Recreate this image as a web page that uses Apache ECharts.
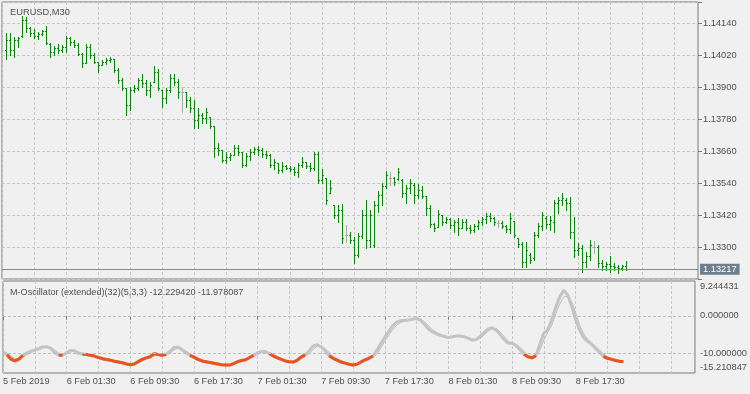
<!DOCTYPE html>
<html><head><meta charset="utf-8">
<script src="https://cdn.jsdelivr.net/npm/echarts@6/dist/echarts.min.js"></script>
<style>html,body{margin:0;padding:0;background:#f0f0f0;}#c{width:750px;height:394px;}</style>
</head><body><div id="c"></div>
<script>
const symbolName = 'EURUSD,M30';
const indicatorName = 'M-Oscillator (extended)(32)(5,3,3)';
const tickLabels = ['5 Feb 2019','6 Feb 01:30','6 Feb 09:30','6 Feb 17:30','7 Feb 01:30','7 Feb 09:30','7 Feb 17:30','8 Feb 01:30','8 Feb 09:30','8 Feb 17:30'];
const oscTicks = [-15.210847, -10, 0, 9.244431];
const oscLevels = [0, -10];

// OHLC bars, first bar = 5 Feb 18:00 (category 1), 30 min each
const open = [
1.14040,1.14077,1.14040,1.14077,1.14092,1.14152,1.14122,1.14103,1.14092,1.14100,
1.14111,1.14062,1.14032,1.14047,1.14040,1.14051,1.14085,1.14070,1.14058,1.14025,
1.13991,1.14051,1.14021,1.13995,1.13983,1.13995,1.14002,1.14006,1.13965,1.13927,
1.13897,1.13833,1.13890,1.13897,1.13927,1.13916,1.13890,1.13920,1.13957,1.13890,
1.13860,1.13890,1.13935,1.13920,1.13882,1.13882,1.13852,1.13822,1.13777,1.13796,
1.13785,1.13788,1.13755,1.13672,1.13665,1.13627,1.13638,1.13646,1.13672,1.13657,
1.13608,1.13642,1.13657,1.13668,1.13665,1.13650,1.13646,1.13608,1.13616,1.13590,
1.13605,1.13597,1.13593,1.13582,1.13608,1.13620,1.13605,1.13597,1.13650,1.13552,
1.13560,1.13503,1.13458,1.13421,1.13440,1.13346,1.13346,1.13327,1.13271,1.13342,
1.13421,1.13327,1.13308,1.13458,1.13496,1.13530,1.13560,1.13560,1.13556,1.13552,
1.13503,1.13522,1.13533,1.13496,1.13515,1.13492,1.13447,1.13387,1.13376,1.13421,
1.13395,1.13406,1.13383,1.13395,1.13372,1.13395,1.13372,1.13365,1.13380,1.13395,
1.13406,1.13417,1.13410,1.13391,1.13391,1.13380,1.13368,1.13398,1.13335,1.13312,
1.13245,1.13271,1.13260,1.13346,1.13380,1.13410,1.13387,1.13395,1.13466,1.13477,
1.13477,1.13466,1.13357,1.13290,1.13297,1.13245,1.13267,1.13301,1.13301,1.13241,
1.13230,1.13237,1.13230,1.13226,1.13222,1.13230];
const high = [
1.14103,1.14103,1.14088,1.14088,1.14167,1.14163,1.14126,1.14118,1.14107,1.14115,
1.14130,1.14066,1.14055,1.14062,1.14058,1.14092,1.14088,1.14077,1.14066,1.14028,
1.14062,1.14062,1.14028,1.13995,1.14002,1.14010,1.14013,1.14006,1.13972,1.13935,
1.13897,1.13901,1.13908,1.13935,1.13950,1.13927,1.13920,1.13980,1.13968,1.13890,
1.13897,1.13950,1.13950,1.13931,1.13901,1.13882,1.13863,1.13852,1.13822,1.13803,
1.13822,1.13788,1.13755,1.13691,1.13665,1.13657,1.13653,1.13683,1.13683,1.13657,
1.13653,1.13668,1.13676,1.13680,1.13672,1.13661,1.13650,1.13631,1.13616,1.13620,
1.13608,1.13605,1.13601,1.13616,1.13638,1.13620,1.13616,1.13657,1.13657,1.13593,
1.13560,1.13552,1.13458,1.13458,1.13462,1.13383,1.13357,1.13338,1.13353,1.13440,
1.13477,1.13440,1.13473,1.13511,1.13541,1.13586,1.13582,1.13563,1.13597,1.13556,
1.13533,1.13556,1.13541,1.13537,1.13530,1.13492,1.13458,1.13391,1.13440,1.13421,
1.13413,1.13410,1.13402,1.13410,1.13406,1.13406,1.13383,1.13387,1.13402,1.13413,
1.13428,1.13428,1.13413,1.13402,1.13398,1.13383,1.13428,1.13398,1.13335,1.13320,
1.13320,1.13278,1.13357,1.13391,1.13432,1.13417,1.13417,1.13477,1.13488,1.13503,
1.13485,1.13488,1.13413,1.13316,1.13308,1.13282,1.13327,1.13323,1.13308,1.13252,
1.13245,1.13267,1.13241,1.13233,1.13233,1.13248];
const low = [
1.14006,1.14021,1.14013,1.14051,1.14088,1.14107,1.14092,1.14085,1.14081,1.14096,
1.14062,1.14013,1.14021,1.14028,1.14032,1.14032,1.14058,1.14051,1.14021,1.13976,
1.13991,1.14010,1.13991,1.13957,1.13983,1.13987,1.13995,1.13957,1.13916,1.13890,
1.13796,1.13815,1.13882,1.13890,1.13901,1.13871,1.13863,1.13920,1.13890,1.13826,
1.13841,1.13882,1.13908,1.13860,1.13807,1.13826,1.13807,1.13747,1.13747,1.13766,
1.13766,1.13747,1.13638,1.13646,1.13620,1.13616,1.13627,1.13646,1.13646,1.13601,
1.13605,1.13627,1.13650,1.13646,1.13638,1.13635,1.13601,1.13593,1.13578,1.13582,
1.13593,1.13586,1.13571,1.13563,1.13601,1.13597,1.13586,1.13590,1.13541,1.13541,
1.13462,1.13503,1.13410,1.13395,1.13316,1.13320,1.13316,1.13241,1.13263,1.13335,
1.13297,1.13301,1.13301,1.13432,1.13458,1.13522,1.13533,1.13533,1.13552,1.13488,
1.13466,1.13503,1.13466,1.13485,1.13485,1.13421,1.13376,1.13361,1.13376,1.13383,
1.13391,1.13372,1.13357,1.13346,1.13372,1.13365,1.13353,1.13357,1.13368,1.13383,
1.13391,1.13398,1.13383,1.13376,1.13372,1.13357,1.13353,1.13338,1.13301,1.13226,
1.13226,1.13241,1.13252,1.13338,1.13365,1.13372,1.13365,1.13357,1.13428,1.13458,
1.13440,1.13335,1.13263,1.13271,1.13207,1.13226,1.13252,1.13278,1.13226,1.13215,
1.13215,1.13207,1.13215,1.13203,1.13215,1.13215];
const close = [
1.14077,1.14040,1.14077,1.14085,1.14152,1.14122,1.14103,1.14092,1.14100,1.14111,
1.14066,1.14032,1.14047,1.14040,1.14051,1.14085,1.14070,1.14058,1.14025,1.13991,
1.14051,1.14021,1.13995,1.13983,1.13995,1.14002,1.14006,1.13965,1.13927,1.13897,
1.13833,1.13890,1.13897,1.13927,1.13916,1.13890,1.13908,1.13957,1.13897,1.13860,
1.13890,1.13935,1.13920,1.13882,1.13882,1.13852,1.13822,1.13777,1.13796,1.13785,
1.13807,1.13755,1.13672,1.13665,1.13627,1.13638,1.13646,1.13672,1.13657,1.13608,
1.13642,1.13657,1.13668,1.13665,1.13650,1.13646,1.13608,1.13620,1.13590,1.13605,
1.13597,1.13593,1.13582,1.13608,1.13620,1.13605,1.13597,1.13650,1.13552,1.13571,
1.13477,1.13522,1.13421,1.13440,1.13335,1.13346,1.13327,1.13271,1.13342,1.13421,
1.13327,1.13421,1.13458,1.13496,1.13530,1.13571,1.13560,1.13545,1.13582,1.13503,
1.13522,1.13541,1.13496,1.13515,1.13492,1.13447,1.13387,1.13372,1.13425,1.13395,
1.13406,1.13383,1.13395,1.13372,1.13395,1.13372,1.13365,1.13380,1.13395,1.13406,
1.13417,1.13410,1.13395,1.13391,1.13380,1.13368,1.13410,1.13346,1.13312,1.13245,
1.13290,1.13252,1.13346,1.13380,1.13421,1.13387,1.13402,1.13466,1.13477,1.13485,
1.13466,1.13357,1.13290,1.13297,1.13245,1.13267,1.13308,1.13301,1.13241,1.13230,
1.13237,1.13230,1.13226,1.13222,1.13230,1.13217];

// oscillator, category 0 (5 Feb 17:30) .. 156
const oscMain = [
-9.6,-10.4,-11.5,-12.0,-11.5,-10.5,-9.9,-9.4,-9.1,-8.7,
-8.3,-8.2,-8.7,-9.8,-10.4,-10.5,-9.8,-9.2,-9.3,-10.0,
-10.2,-10.3,-10.5,-10.7,-11.1,-11.4,-11.6,-11.8,-12.1,-12.3,
-12.5,-12.8,-13.0,-12.8,-12.2,-11.6,-11.2,-10.9,-10.1,-10.3,
-10.5,-10.3,-9.5,-8.4,-8.3,-9.0,-9.9,-10.5,-11.0,-11.6,
-12.0,-12.2,-12.4,-12.6,-12.8,-13.0,-13.1,-13.1,-12.7,-12.2,
-11.9,-11.7,-11.1,-10.5,-9.9,-9.5,-9.5,-10.1,-10.7,-11.2,
-11.6,-12.0,-12.2,-12.3,-11.8,-10.9,-10.4,-9.3,-8.0,-7.7,
-8.3,-9.3,-10.6,-11.3,-11.8,-12.3,-12.6,-12.9,-13.1,-12.9,
-12.3,-11.7,-11.3,-10.7,-9.2,-7.4,-5.7,-4.2,-2.6,-1.7,
-1.3,-1.2,-1.1,-0.9,-0.7,-1.2,-2.3,-3.5,-4.3,-4.8,
-5.2,-5.5,-5.8,-5.6,-5.4,-5.4,-5.6,-6.0,-6.5,-6.3,
-5.5,-4.5,-3.5,-3.2,-3.8,-5.0,-6.3,-7.3,-7.3,-7.9,
-9.0,-10.2,-10.9,-11.2,-10.6,-7.6,-4.6,-3.7,-1.0,2.3,
5.0,6.8,5.5,2.5,-1.0,-3.8,-5.8,-6.8,-7.6,-8.7,
-9.7,-10.8,-11.3,-11.6,-11.9,-12.1,-12.229420];
const oscSignal = [
-9.4,-9.9,-10.7,-11.4,-11.6,-11.1,-10.4,-9.8,-9.3,-9.0,
-8.6,-8.3,-8.4,-9.1,-9.9,-10.3,-10.2,-9.6,-9.3,-9.6,
-10.0,-10.2,-10.4,-10.6,-10.9,-11.2,-11.4,-11.6,-11.9,-12.1,
-12.3,-12.6,-12.8,-12.9,-12.6,-12.0,-11.5,-11.1,-10.6,-10.3,
-10.4,-10.4,-10.0,-9.1,-8.5,-8.7,-9.4,-10.1,-10.7,-11.2,
-11.7,-12.0,-12.2,-12.4,-12.6,-12.8,-12.9,-13.0,-12.9,-12.5,
-12.1,-11.8,-11.4,-10.9,-10.3,-9.8,-9.6,-9.8,-10.3,-10.8,
-11.3,-11.7,-12.0,-12.2,-12.1,-11.5,-10.8,-10.0,-8.9,-8.1,
-8.0,-8.7,-9.8,-10.8,-11.4,-11.9,-12.3,-12.6,-12.9,-13.0,
-12.7,-12.1,-11.6,-11.1,-10.2,-8.6,-6.8,-5.2,-3.7,-2.5,
-1.8,-1.4,-1.2,-1.0,-0.8,-0.9,-1.6,-2.7,-3.7,-4.4,
-4.9,-5.3,-5.6,-5.7,-5.5,-5.4,-5.5,-5.8,-6.2,-6.4,
-6.0,-5.1,-4.1,-3.4,-3.4,-4.3,-5.5,-6.7,-7.3,-7.6,
-8.4,-9.5,-10.4,-11.0,-11.0,-9.2,-6.4,-4.3,-2.5,0.5,
3.2,5.0,5.2,3.8,0.8,-2.4,-4.8,-6.3,-7.2,-8.1,
-9.1,-10.1,-10.9,-11.3,-11.6,-11.8,-11.978087];

const PRICE_BASE = 1.1318;     // price at bottom of main pane
const PRICE_TOP = 1.1422;      // price at top of main pane
const PRICE_STEP = 0.0012;     // tick step
const N_CATS = 175;            // visible time slots incl. right-side shift
const OSC_LEVEL = -10;

const FONT = 'Liberation Sans';
const TXT = '#505050';
const BORDER = '#7a7a7a';
const GRIDC = '#c8c8c8';
const BAR = '#0b840b';
const DOJI = '#a9a9a9';
const ORANGE = '#ec531a';

const toV = p => (p - PRICE_BASE) * 10000;
const cats = Array.from({length: N_CATS}, (_, i) => String(i));
const barData = open.map((o, k) => [k + 1, toV(o), toV(high[k]), toV(low[k]), toV(close[k])]);
const lastClose = close[close.length - 1];
// thick line drawn orange where it lies below the lower level
const isLow = i => i >= 0 && i < oscMain.length && oscMain[i] < OSC_LEVEL;
const oscLowPart = oscMain.map((v, i) => (isLow(i) && (isLow(i - 1) || isLow(i + 1))) ? v : null);

function renderBar(params, api) {
  const i = api.value(0);
  const o = api.value(1), h = api.value(2), l = api.value(3), c = api.value(4);
  const ph = api.coord([i, h]), pl = api.coord([i, l]);
  const po = api.coord([i, o]), pc = api.coord([i, c]);
  const cx = Math.round(ph[0]);
  const x = cx + 0.5;
  const yh = Math.round(ph[1]), yl = Math.round(pl[1]);
  const yo = Math.round(po[1]) + 0.5, yc = Math.round(pc[1]) + 0.5;
  const col = Math.abs(o - c) < 1e-9 ? DOJI : BAR;
  const st = {stroke: col, lineWidth: 1};
  return {type: 'group', children: [
    {type: 'line', shape: {x1: x, y1: yh, x2: x, y2: Math.max(yl + 1, yh + 1)}, style: st},
    {type: 'line', shape: {x1: cx - 1, y1: yo, x2: cx, y2: yo}, style: st},
    {type: 'line', shape: {x1: cx + 1, y1: yc, x2: cx + 2, y2: yc}, style: st}
  ]};
}

// horizontal indicator level lines through the oscillator's own scales
function renderLevel(params, api) {
  const lvl = api.value(1);
  const p0 = api.coord([0, lvl]);
  const p1 = api.coord([N_CATS - 1, lvl]);
  const y = Math.round(p0[1]) + 0.5;
  return {type: 'line', shape: {x1: p0[0], y1: y, x2: p1[0], y2: y},
          style: {stroke: '#bdbdbd', lineWidth: 1, lineDash: [3, 2]}};
}

const dash = () => ({color: GRIDC, width: 1, type: [3, 2]});
const labelShown = i => i % 16 === 0 && i / 16 < tickLabels.length;

const chart = echarts.init(document.getElementById('c'), null, {renderer: 'canvas'});
chart.setOption({
  animation: false,
  backgroundColor: '#f0f0f0',
  textStyle: {fontFamily: FONT},
  title: [
    {text: symbolName, left: 5, top: 3, textStyle: {fontFamily: FONT, fontSize: 9.3, fontWeight: 'normal', color: TXT}},
    {text: indicatorName + ' ' + oscMain[oscMain.length - 1].toFixed(6) + ' ' + oscSignal[oscSignal.length - 1].toFixed(6),
     left: 5, top: 283, textStyle: {fontFamily: FONT, fontSize: 9.1, fontWeight: 'normal', color: TXT}}
  ],
  grid: [
    {left: 2, top: 2, width: 696, height: 277, show: true, borderColor: BORDER, borderWidth: 1, backgroundColor: 'transparent'},
    {left: 2, top: 281, width: 696, height: 92, show: true, borderColor: BORDER, borderWidth: 1, backgroundColor: 'transparent'}
  ],
  xAxis: [
    {gridIndex: 0, type: 'category', data: cats, boundaryGap: false,
     axisLine: {show: false}, axisTick: {show: false}, axisLabel: {show: false},
     splitLine: {show: true, interval: i => i % 8 === 0, lineStyle: dash()}},
    {gridIndex: 1, type: 'category', data: cats, boundaryGap: false, position: 'bottom',
     axisLine: {show: false},
     axisTick: {show: true, inside: false, length: 4, interval: labelShown, lineStyle: {color: BORDER}},
     axisLabel: {show: true, interval: labelShown, align: 'left', margin: 4,
       fontFamily: FONT, fontSize: 9.2, color: TXT,
       formatter: (v, idx) => tickLabels[idx / 16] || ''},
     splitLine: {show: true, interval: i => i % 8 === 0, lineStyle: dash()}}
  ],
  yAxis: [
    {gridIndex: 0, type: 'value', position: 'right', min: 0, max: toV(PRICE_TOP), interval: PRICE_STEP * 10000,
     axisLine: {show: false},
     axisTick: {show: true, inside: false, length: 4, lineStyle: {color: BORDER}},
     axisLabel: {show: true, margin: 5, fontFamily: FONT, fontSize: 9.3, color: TXT,
       formatter: v => {
         const k = v / (PRICE_STEP * 10000);
         if (v <= 0 || Math.abs(k - Math.round(k)) > 1e-6) return '';
         return (PRICE_BASE + v / 10000).toFixed(5);
       }},
     splitLine: {show: true, lineStyle: dash()}},
    {gridIndex: 1, type: 'value', position: 'right', min: oscTicks[0], max: oscTicks[oscTicks.length - 1],
     axisLine: {show: false},
     axisTick: {show: false},
     axisLabel: {show: true, margin: 5, fontFamily: FONT, fontSize: 9.3, color: TXT,
       customValues: oscTicks,
       formatter: v => {
         const s = v.toFixed(6);
         if (Math.abs(v - oscTicks[oscTicks.length - 1]) < 1e-9) return '{t|' + s + '}';
         if (Math.abs(v - oscTicks[0]) < 1e-9) return '{b|' + s + '}';
         return s;
       },
       rich: {
         t: {fontFamily: FONT, fontSize: 9.3, color: TXT, padding: [11, 0, 0, 0]},
         b: {fontFamily: FONT, fontSize: 9.3, color: TXT, padding: [0, 0, 12, 0]}
       }},
     splitLine: {show: false}}
  ],
  series: [
    {type: 'custom', name: 'bars', xAxisIndex: 0, yAxisIndex: 0, renderItem: renderBar,
     encode: {x: 0, y: [1, 2, 3, 4]}, data: barData, z: 3,
     markLine: {silent: true, symbol: 'none', animation: false,
       lineStyle: {color: '#8a8a8a', width: 1, type: 'solid'},
       label: {show: true, position: 'end', distance: 2, formatter: () => lastClose.toFixed(5),
         fontFamily: FONT, fontSize: 9.3, color: '#ffffff', backgroundColor: '#6e7e8c', padding: [1, 3, 1, 3]},
       data: [{yAxis: toV(lastClose)}]}},
    {type: 'line', name: 'signal', xAxisIndex: 1, yAxisIndex: 1, data: oscSignal, symbol: 'none',
     lineStyle: {color: '#bdbdbd', width: 1}, z: 3},
    {type: 'line', name: 'main', xAxisIndex: 1, yAxisIndex: 1, data: oscMain, symbol: 'none',
     lineStyle: {width: 3, color: '#c4c4c4'}, z: 4},
    {type: 'line', name: 'mainLow', xAxisIndex: 1, yAxisIndex: 1, data: oscLowPart, symbol: 'none',
     connectNulls: false, lineStyle: {width: 3, color: ORANGE}, z: 5},
    {type: 'custom', name: 'levels', xAxisIndex: 1, yAxisIndex: 1, renderItem: renderLevel,
     encode: {x: 0, y: 1}, data: oscLevels.map(l => [0, l]), z: 10}
  ]
});
</script></body></html>
